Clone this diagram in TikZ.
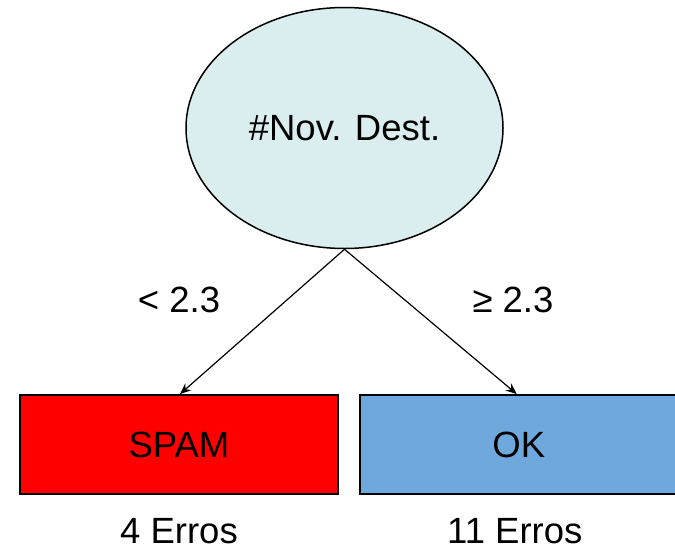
\documentclass[tikz,border=0pt]{standalone}
\usepackage{fontspec}
\setmainfont{Liberation Sans}
\usetikzlibrary{shapes.geometric,arrows.meta,positioning}
\definecolor{nodecyan}{RGB}{218,238,240}
\definecolor{spamred}{RGB}{255,0,0}
\definecolor{okblue}{RGB}{111,168,220}

\begin{document}
\begin{tikzpicture}[x=1pt, y=-1pt, every node/.style={font=\fontsize{36.5}{42}\selectfont},
		leafbox/.style={draw, line width=1.8pt, rectangle, minimum width=318pt, minimum height=99pt, inner sep=0pt},
		branch/.style={-{Stealth[length=11pt, width=9pt]}, line width=1.2pt}]
				\useasboundingbox (0,0) rectangle (675,549);
				\node[draw, ellipse, fill=nodecyan, line width=1.5pt, minimum width=317pt, minimum height=241pt, inner sep=0pt] (nov) at (344.5,128) {\#Nov. Dest.};
				\node[leafbox, fill=spamred] (spam) at (179,444.5) {SPAM};
				\node[leafbox, fill=okblue] (ok) [right=20pt of spam] {OK};
				\node (lt) at (179,300) {< 2.3};
				\node (ge) at (513,300) {≥ 2.3};
				\node[inner sep=0pt] (errspam) [below=22pt of spam.south, anchor=center, yshift=-14pt] {4 Erros};
				\node[inner sep=0pt] (errok) [below=22pt of ok.south, anchor=center, yshift=-14pt, xshift=-4pt] {11 Erros};
				\draw[branch] (nov.south) -- ([xshift=1pt]spam.north);
				\draw[branch] (nov.south) -- ([xshift=-2pt]ok.north);
			\end{tikzpicture}
\end{document}
